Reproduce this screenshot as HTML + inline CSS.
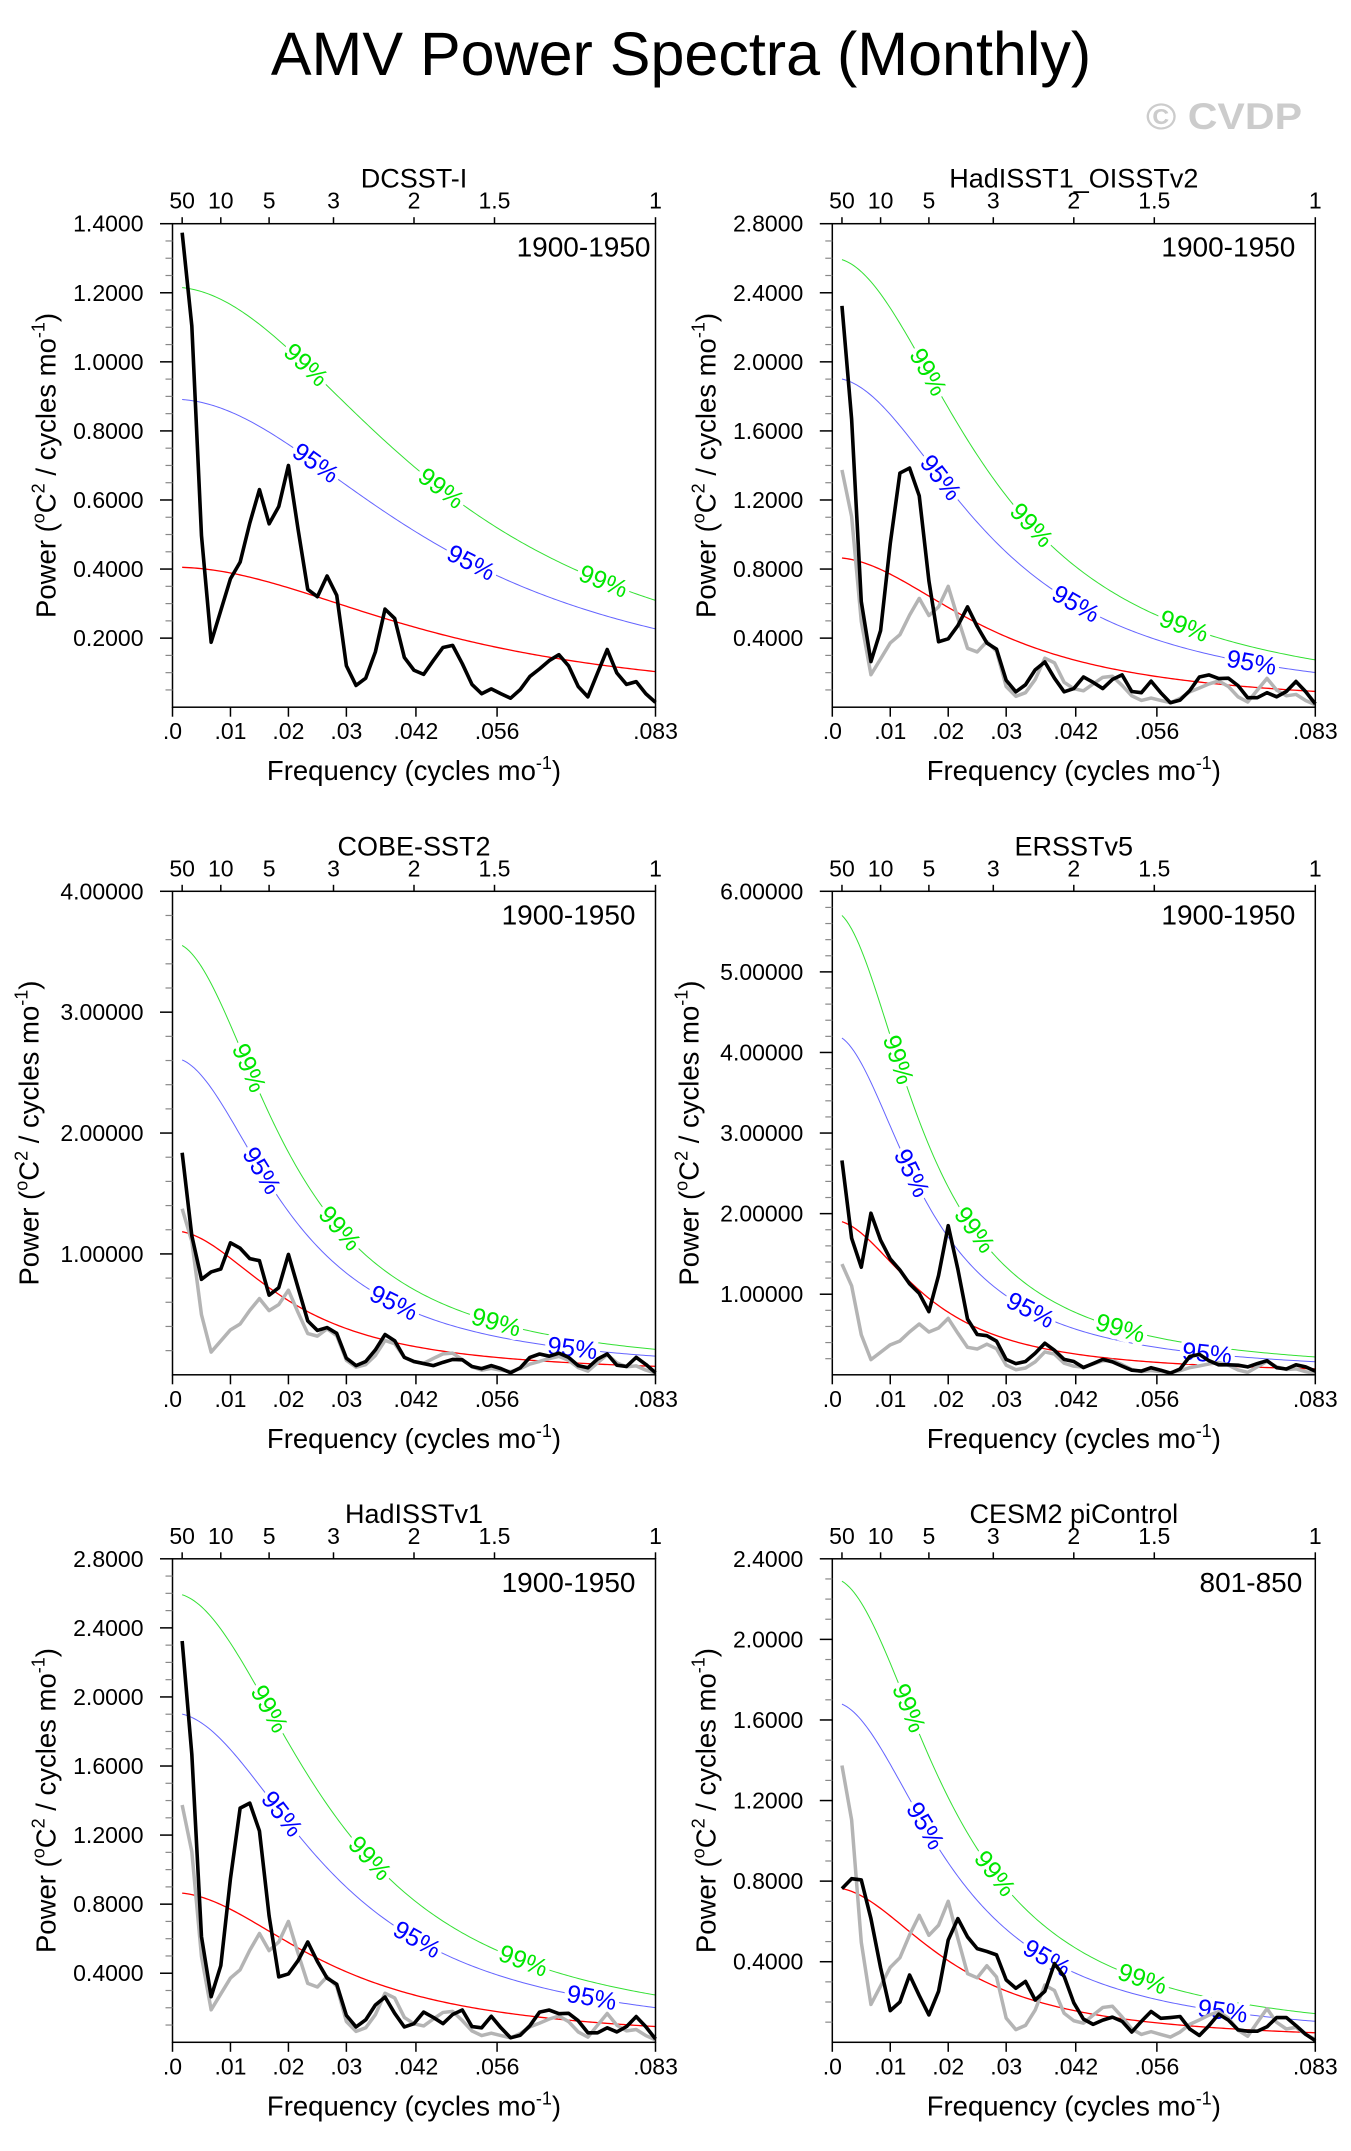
<!DOCTYPE html>
<html><head><meta charset="utf-8"><title>AMV Power Spectra (Monthly)</title>
<style>
html,body{margin:0;padding:0;background:#fff;}
svg{display:block;font-family:"Liberation Sans",Arial,sans-serif;}
</style></head>
<body>
<svg id="chart" width="1351" height="2151" viewBox="0 0 1351 2151" xmlns="http://www.w3.org/2000/svg">
<rect x="0" y="0" width="1351" height="2151" fill="#fff"/>
<text x="681" y="75" font-size="61" text-anchor="middle" fill="#000">AMV Power Spectra (Monthly)</text>
<text x="1146" y="129" font-size="37" font-weight="bold" fill="#cccccc" textLength="156" lengthAdjust="spacingAndGlyphs">© CVDP</text>
</svg>
<script>
// ---- data (50 harmonics, f = k/600 cycles per month) ----
const nMonths = 600;
const harmonics = [1,2,3,4,5,6,7,8,9,10,11,12,13,14,15,16,17,18,19,20,21,22,23,24,25,26,27,28,29,30,31,32,33,34,35,36,37,38,39,40,41,42,43,44,45,46,47,48,49,50];
const dcsstPower = [1.374,1.104,0.497,0.188,0.28,0.372,0.42,0.533,0.63,0.531,0.581,0.70,0.515,0.341,0.32,0.38,0.324,0.12,0.063,0.084,0.16,0.284,0.257,0.144,0.107,0.095,0.135,0.173,0.179,0.126,0.066,0.039,0.053,0.039,0.026,0.051,0.089,0.111,0.135,0.152,0.12,0.06,0.03,0.099,0.167,0.099,0.066,0.074,0.039,0.014];
const hadOisstPower = [2.324,1.668,0.612,0.264,0.444,0.948,1.356,1.385,1.224,0.732,0.379,0.396,0.473,0.581,0.468,0.372,0.336,0.156,0.089,0.13,0.216,0.262,0.168,0.089,0.108,0.175,0.144,0.108,0.161,0.187,0.091,0.084,0.151,0.084,0.026,0.041,0.096,0.175,0.187,0.166,0.168,0.125,0.055,0.055,0.084,0.06,0.091,0.149,0.09,0.019];
const cobePower = [1.837,1.15,0.79,0.851,0.875,1.092,1.047,0.961,0.944,0.659,0.721,0.996,0.72,0.446,0.367,0.391,0.343,0.137,0.076,0.11,0.206,0.333,0.282,0.144,0.11,0.093,0.076,0.103,0.127,0.124,0.069,0.051,0.076,0.051,0.017,0.058,0.144,0.172,0.154,0.179,0.144,0.076,0.058,0.13,0.172,0.079,0.069,0.144,0.086,0.017];
const ersstPower = [2.66,1.696,1.335,2.005,1.67,1.438,1.30,1.129,1.01,0.784,1.232,1.851,1.309,0.691,0.5,0.485,0.418,0.191,0.139,0.165,0.268,0.392,0.304,0.191,0.165,0.09,0.139,0.191,0.16,0.108,0.057,0.046,0.088,0.057,0.021,0.072,0.227,0.253,0.175,0.124,0.124,0.119,0.098,0.139,0.175,0.088,0.072,0.124,0.098,0.046];
const hadisstV1Power = [2.324,1.668,0.612,0.264,0.444,0.948,1.356,1.385,1.224,0.732,0.379,0.396,0.473,0.581,0.468,0.372,0.336,0.156,0.089,0.13,0.216,0.262,0.168,0.089,0.108,0.175,0.144,0.108,0.161,0.187,0.091,0.084,0.151,0.084,0.026,0.041,0.096,0.175,0.187,0.166,0.168,0.125,0.055,0.055,0.084,0.06,0.091,0.149,0.09,0.019];
const cesmPower = [0.763,0.812,0.806,0.614,0.37,0.157,0.2,0.334,0.232,0.136,0.253,0.508,0.614,0.523,0.465,0.451,0.434,0.31,0.268,0.302,0.21,0.253,0.391,0.327,0.196,0.115,0.089,0.11,0.125,0.104,0.051,0.104,0.153,0.119,0.123,0.128,0.066,0.034,0.083,0.14,0.11,0.062,0.055,0.055,0.077,0.123,0.123,0.083,0.04,0.008];
const referencePower = dcsstPower; // grey overlay = DCSST-I

const panelNames = ['DCSST-I','HadISST1_OISSTv2','COBE-SST2','ERSSTv5','HadISSTv1','CESM2 piControl'];
const panelPeriods = ['1900-1950','1900-1950','1900-1950','1900-1950','1900-1950','801-850'];
const panelSeries = [dcsstPower, hadOisstPower, cobePower, ersstPower, hadisstV1Power, cesmPower];
const showReference = [false,true,true,true,true,true];
const yAxisMax = [1.4,2.8,4,6,2.8,2.4];
const yMajorStep = [0.2,0.4,1,1,0.4,0.4];
const yMinorStep = [0.05,0.1,0.2,0.2,0.1,0.1];
const yDecimals = [4,4,5,5,4,4];
const redNoiseLevel = [0.405,0.864,1.184,1.90,0.864,0.763];
const redNoiseLag1 = [0.74,0.8375,0.8787,0.9017,0.8375,0.8758];
const conf95Mult = 2.2;
const conf99Mult = 3.0;
const label99At = [[13.8,27.8,44.6],[9.9,20.6,36.4],[7.9,17.3,33.5],[6.8,14.7,29.8],[10,20.4,36.3],[7.9,16.8,32.1]];
const label95At = [[14.8,30.9],[11.2,25.2,43.4],[9.2,22.9,41.4],[8.2,20.5,38.8],[11.3,25.3,43.4],[9.6,22.2,40.4]];
const xTickValues = [0,0.01,0.02,0.03,0.042,0.056,1/12];
const xTickLabels = ['.0','.01','.02','.03','.042','.056','.083'];
const periodTicks = [50,10,5,3,2,1.5,1];
const periodLabels = ['50','10','5','3','2','1.5','1'];

// ---- layout ----
const colX = [172.5, 832.3];
const rowY = [223.7, 891.3, 1558.8];
const PW = 483, PH = 483.5;
const periodRightPad = [5,20,20,20,20,13];
const NS = 'http://www.w3.org/2000/svg';
const svg = document.getElementById('chart');

function mk(parent, tag, attrs, text){
  const e = document.createElementNS(NS, tag);
  for (const k in attrs) e.setAttribute(k, attrs[k]);
  if (text !== undefined) e.textContent = text;
  parent.appendChild(e);
  return e;
}

panelNames.forEach((pname, p) => {
  const x0 = colX[p % 2], y0 = rowY[Math.floor(p / 2)];
  const ymax = yAxisMax[p];
  const xs = f => x0 + f * 12 * PW;
  const ys = v => y0 + PH - (v / ymax) * PH;
  const slug = pname.toLowerCase().replace(/[^a-z0-9]+/g, '-');

  const g = mk(svg, 'g', {});
  
  

  const r = redNoiseLag1[p];
  const shape = f => 1 / (1 - 2 * r * Math.cos(2 * Math.PI * f) + r * r);
  const base = shape(1 / nMonths);
  const red = k => redNoiseLevel[p] * shape(k / nMonths) / base;
  function curvePath(mult){
    let d = '';
    for (let k = 1; k <= 50.001; k += 0.25) {
      d += (d ? 'L' : 'M') + xs(k / nMonths).toFixed(2) + ',' + ys(red(k) * mult).toFixed(2);
    }
    return d;
  }
  const c99 = mk(g, 'path', {d: curvePath(conf99Mult), fill: 'none', stroke: '#33e033', 'stroke-width': 1});
  
  
  const c95 = mk(g, 'path', {d: curvePath(conf95Mult), fill: 'none', stroke: '#6464ff', 'stroke-width': 1});
  
  
  const cr = mk(g, 'path', {d: curvePath(1), fill: 'none', stroke: '#ff0000', 'stroke-width': 1.3});
  
  

  function curveLabel(k, mult, txt, color, nm){
    const x = xs(k / nMonths), y = ys(red(k) * mult);
    const x2 = xs((k + 0.3) / nMonths), y2 = ys(red(k + 0.3) * mult);
    const ang = Math.atan2(y2 - y, x2 - x) * 180 / Math.PI;
    const t = mk(g, 'text', {x: x.toFixed(1), y: y.toFixed(1), 'font-size': 25, fill: color, 'text-anchor': 'middle', 'dominant-baseline': 'central', transform: 'rotate(' + ang.toFixed(1) + ' ' + x.toFixed(1) + ' ' + y.toFixed(1) + ')', stroke: '#fff', 'stroke-width': 8, 'paint-order': 'stroke'}, txt);
    
    
  }
  label99At[p].forEach(k => curveLabel(k, conf99Mult, '99%', '#00e600', 'label-99-percent'));
  label95At[p].forEach(k => curveLabel(k, conf95Mult, '95%', '#0000ff', 'label-95-percent'));

  function seriesPath(vals){
    return vals.map((v, i) => (i ? 'L' : 'M') + xs(harmonics[i] / nMonths).toFixed(2) + ',' + ys(v).toFixed(2)).join('');
  }
  if (showReference[p]) {
    const gr = mk(g, 'path', {d: seriesPath(referencePower), fill: 'none', stroke: '#b4b4b4', 'stroke-width': 3.5, 'stroke-linejoin': 'round'});
    
    
  }
  const bl = mk(g, 'path', {d: seriesPath(panelSeries[p]), fill: 'none', stroke: '#000', 'stroke-width': 3.6, 'stroke-linejoin': 'round'});
  
  

  const fr = mk(g, 'rect', {x: x0, y: y0, width: PW, height: PH, fill: 'none', stroke: '#000', 'stroke-width': 1.5});
  
  

  const nMinor = Math.round(ymax / yMinorStep[p]);
  const ratio = Math.round(yMajorStep[p] / yMinorStep[p]);
  for (let i = 1; i <= nMinor; i++) {
    if (i % ratio === 0) continue;
    const y = ys(i * yMinorStep[p]);
    const mt = mk(g, 'line', {x1: x0 - 7, x2: x0, y1: y, y2: y, stroke: '#888', 'stroke-width': 1.2});
    
    
  }
  const nMajor = Math.round(ymax / yMajorStep[p]);
  for (let i = 1; i <= nMajor; i++) {
    const v = i * yMajorStep[p];
    const y = ys(v);
    const tk = mk(g, 'line', {x1: x0 - 12.5, x2: x0, y1: y, y2: y, stroke: '#000', 'stroke-width': 1.5});
    
    
    const tl = mk(g, 'text', {x: x0 - 29, y: y + 8, 'font-size': 23, 'text-anchor': 'end', fill: '#000'}, v.toFixed(yDecimals[p]));
    
    
  }
  xTickValues.forEach((f, i) => {
    const x = xs(f);
    const tk = mk(g, 'line', {x1: x, x2: x, y1: y0 + PH, y2: y0 + PH + 9.5, stroke: '#000', 'stroke-width': 1.5});
    
    
    const tl = mk(g, 'text', {x: x, y: y0 + PH + 32, 'font-size': 23, 'text-anchor': 'middle', fill: '#000'}, xTickLabels[i]);
    
    
  });
  periodTicks.forEach((yr, i) => {
    const x = xs(1 / (12 * yr));
    const tk = mk(g, 'line', {x1: x, x2: x, y1: y0, y2: y0 - 6.5, stroke: '#000', 'stroke-width': 1.5});
    
    
    const tl = mk(g, 'text', {x: x, y: y0 - 15, 'font-size': 23, 'text-anchor': 'middle', fill: '#000'}, periodLabels[i]);
    
    
  });

  const ti = mk(g, 'text', {x: x0 + PW / 2, y: y0 - 36, 'font-size': 27, 'text-anchor': 'middle', fill: '#000'}, pname);
  
  
  const pe = mk(g, 'text', {x: x0 + PW - periodRightPad[p], y: y0 + 33, 'font-size': 28, 'text-anchor': 'end', fill: '#000'}, panelPeriods[p]);
  
  

  const xt = mk(g, 'text', {x: x0 + PW / 2, y: y0 + PH + 73, 'font-size': 27.5, 'text-anchor': 'middle', fill: '#000'});
  
  
  mk(xt, 'tspan', {}, 'Frequency (cycles mo');
  mk(xt, 'tspan', {dy: -11, 'font-size': 18}, '-1');
  mk(xt, 'tspan', {dy: 11}, ')');

  const yx = x0 - (yDecimals[p] === 5 ? 134 : 117);
  const yc = y0 + PH / 2;
  const yt = mk(g, 'text', {x: yx, y: yc, 'font-size': 27.5, 'text-anchor': 'middle', fill: '#000', transform: 'rotate(-90 ' + yx + ' ' + yc + ')'});
  
  
  mk(yt, 'tspan', {}, 'Power (');
  mk(yt, 'tspan', {dy: -11, 'font-size': 18}, 'o');
  mk(yt, 'tspan', {dy: 11}, 'C');
  mk(yt, 'tspan', {dy: -11, 'font-size': 18}, '2');
  mk(yt, 'tspan', {dy: 11}, ' / cycles mo');
  mk(yt, 'tspan', {dy: -11, 'font-size': 18}, '-1');
  mk(yt, 'tspan', {dy: 11}, ')');
});
</script>
</body></html>
